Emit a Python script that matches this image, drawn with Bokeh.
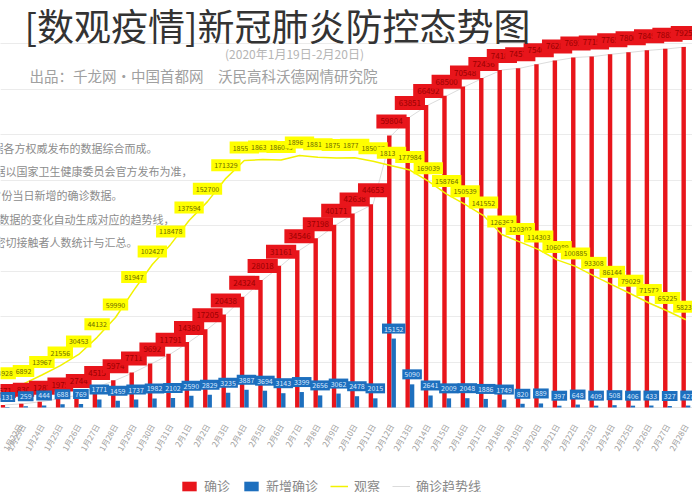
import math
from bokeh.plotting import figure
from bokeh.models import (ColumnDataSource, Range1d, FixedTicker, Label, Legend,
                          LegendItem, Grid)
from bokeh.transform import dodge
from bokeh.core.properties import value
from bokeh.embed import file_html
from bokeh.resources import INLINE

FONT = "Noto Sans CJK SC"

dates = ["1月22日", "1月23日", "1月24日", "1月25日",
         "1月26日", "1月27日", "1月28日", "1月29日", "1月30日", "1月31日", "2月1日",
         "2月2日", "2月3日", "2月4日", "2月5日", "2月6日", "2月7日", "2月8日", "2月9日",
         "2月10日", "2月11日", "2月12日", "2月13日", "2月14日", "2月15日", "2月16日",
         "2月17日", "2月18日", "2月19日", "2月20日", "2月21日", "2月22日", "2月23日",
         "2月24日", "2月25日", "2月26日", "2月27日", "2月28日"]

confirmed = [571, 830, 1287, 1975, 2744, 4515, 5974, 7711, 9692, 11791,
             14380, 17205, 20438, 24324, 28018, 31161, 34546, 37198, 40171, 42638, 44653,
             59804, 63851, 66492, 68500, 70548, 72436, 74185, 74576, 75465, 76288, 76936,
             77150, 77658, 78064, 78497, 78824, 79251]

new_confirmed = [131, 259, 444, 688, 769, 1771, 1459, 1737, 1982, 2102,
                 2590, 2829, 3235, 3887, 3694, 3143, 3399, 2656, 3062, 2478, 2015, 15152,
                 5090, 2641, 2009, 2048, 1886, 1749, 820, 889, 397, 648, 409, 508, 406,
                 433, 327, 427]

observed = [4928, 6892, 13967, 21556, 30453, 44132, 59990, 81947, 102427,
            118478, 137594, 152700, 171329, 185555, 186354, 186045, 189660, 188183, 187518,
            187728, 185037, 181386, 177984, 169039, 158764, 150539, 141552, 126363, 120302,
            114303, 106089, 100885, 93308, 86144, 79029, 71572, 65225, 58233]

grid_values = [10000, 20000, 30000, 40000, 50000, 60000, 70000, 80000]

notes = ["注：1.本图数据根据各方权威发布的数据综合而成。",
         "2.确诊、新增确诊数据以国家卫生健康委员会官方发布为准，",
         "3.新增确诊包含各省份当日新增的确诊数据。",
         "4.确诊趋势线根据确诊数据的变化自动生成对应的趋势线，",
         "5.观察为尚在接受医学观察的密切接触者人数统计与汇总。"]

idx = list(range(len(dates)))
src = ColumnDataSource(dict(
    x=idx, conf=confirmed, new=new_confirmed, obs=observed,
    conf_s=[str(v) for v in confirmed], new_s=[str(v) for v in new_confirmed],
    obs_s=[str(v) for v in observed]))

p = figure(width=692, height=492, output_backend="svg", toolbar_location=None,
           x_range=Range1d(-0.25, 37.36), y_range=Range1d(-18681, 89451),
           y_axis_location=None,
           min_border_left=0, min_border_right=0, min_border_top=0, min_border_bottom=0)
p.extra_y_ranges = {"obs": Range1d(-80000, 313600)}
p.outline_line_color = None
p.background_fill_color = "white"
p.border_fill_color = "white"
p.xgrid.visible = False
p.add_layout(Grid(dimension=1, ticker=FixedTicker(ticks=grid_values),
                  grid_line_color="#ebebeb", grid_line_width=1))

ax = p.xaxis[0]
ax.fixed_location = 0
ax.ticker = FixedTicker(ticks=idx)
ax.major_label_overrides = {i: d for i, d in enumerate(dates)}
ax.major_label_orientation = 1.05
ax.major_label_text_font = FONT
ax.major_label_text_font_size = "8px"
ax.major_label_text_color = "#a0a0a0"
ax.major_tick_line_color = None
ax.minor_tick_line_color = None
ax.axis_line_color = None
ax.major_label_standoff = 11

r_trend = p.line(x="x", y="conf", source=src, line_color="#d2d2d2", line_width=0.8)
r_red = p.vbar(x=dodge("x", -0.12, range=p.x_range), top="conf", width=0.24, source=src,
               fill_color="#e8151b", line_color=None)
r_blue = p.vbar(x=dodge("x", 0.12, range=p.x_range), top="new", width=0.24, source=src,
                fill_color="#1d6fbe", line_color=None)
r_obs = p.line(x="x", y="obs", source=src, y_range_name="obs", line_color="#f2f200",
               line_width=1.5)

p.text(x="x", y="conf", text="conf_s", source=src, y_offset=-14, text_align="center",
       text_baseline="middle", text_font=value(FONT), text_font_size="8px",
       text_color="#9a0000", background_fill_color="#e8151b", padding=4)
p.text(x=dodge("x", 0.12, range=p.x_range), y="new", text="new_s", source=src, y_offset=-10,
       text_align="center", text_baseline="middle", text_font=value(FONT),
       text_font_size="7px", text_color="#d8e8ff", background_fill_color="#1d6fbe",
       padding=2)
p.text(x="x", y="obs", text="obs_s", source=src, y_range_name="obs", y_offset=-13,
       text_align="center", text_baseline="middle", text_font=value(FONT),
       text_font_size="7px", text_color="#6b6b00", background_fill_color="#ffff00",
       padding=3)

FB = 500  # image y of frame bottom
FL = 8    # image x of frame left


def add_label(text, xi, yi, size, color, align="left"):
    p.add_layout(Label(x=xi - FL, y=FB - yi, x_units="screen", y_units="screen",
                       text=text, text_font=FONT, text_font_size=size,
                       text_color=color, text_align=align, text_baseline="middle"))


add_label("[数观疫情]新冠肺炎防控态势图", 32, 32, "37px", "#333333")
add_label("(2020年1月19日-2月20日)", 302, 61, "12px", "#b5b5b5", "center")
add_label("出品：千龙网•中国首都网　沃民高科沃德网情研究院", 37, 83, "14.5px", "#a0a0a0")

note_end = [165, 200, 130, 182, 145]
note_y = [155, 178, 202, 226, 249]
for t, xe, yy in zip(notes, note_end, note_y):
    add_label(t, xe, yy, "11px", "#8c8c8c", "right")

legend = Legend(items=[LegendItem(label="确诊", renderers=[r_red]),
                       LegendItem(label="新增确诊", renderers=[r_blue]),
                       LegendItem(label="观察", renderers=[r_obs]),
                       LegendItem(label="确诊趋势线", renderers=[r_trend])],
                orientation="horizontal", location=(180, -3),
                label_text_font=FONT, label_text_font_size="13px",
                label_text_color="#888888", border_line_color=None,
                background_fill_alpha=0, glyph_width=18, glyph_height=12,
                spacing=12, padding=0, margin=0, label_standoff=6)
p.add_layout(legend)

open("out.html", "w").write(file_html(p, INLINE))
